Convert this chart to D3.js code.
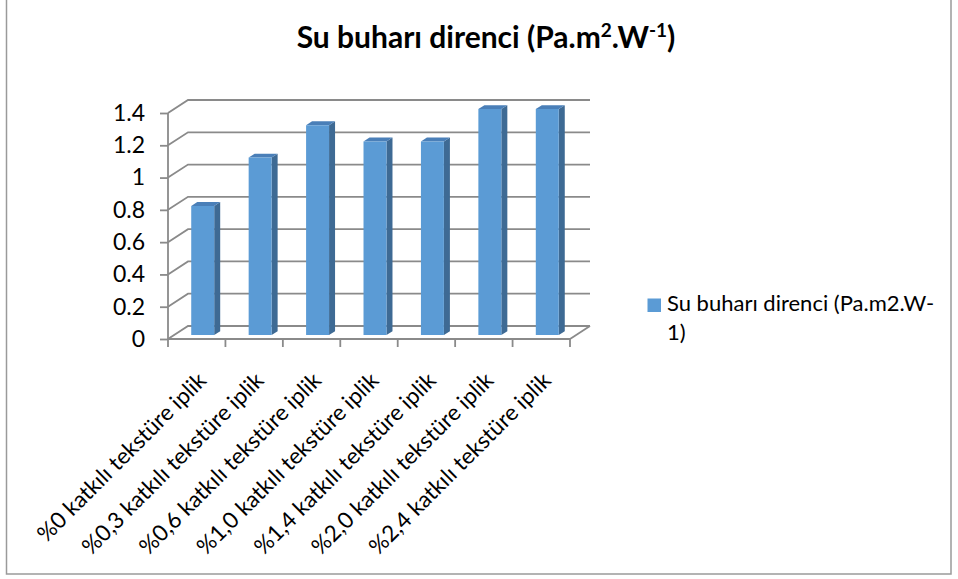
<!DOCTYPE html>
<html>
<head>
<meta charset="utf-8">
<script src="https://cdn.jsdelivr.net/npm/d3@7"></script>
<style>
  html, body { margin: 0; padding: 0; background: #fff; }
  svg { display: block; }
  text { font-family: Lato, "Noto Sans", sans-serif; fill: #000; }
</style>
</head>
<body>
<svg id="chart" width="958" height="579"></svg>
<script>
// Chart data
const categories = [
  "%0 katkılı tekstüre iplik",
  "%0,3 katkılı tekstüre iplik",
  "%0,6 katkılı tekstüre iplik",
  "%1,0 katkılı tekstüre iplik",
  "%1,4 katkılı tekstüre iplik",
  "%2,0 katkılı tekstüre iplik",
  "%2,4 katkılı tekstüre iplik"
];
const values = [0.8, 1.1, 1.3, 1.2, 1.2, 1.4, 1.4];
const yTicks = [0, 0.2, 0.4, 0.6, 0.8, 1.0, 1.2, 1.4];
const seriesName = "Su buharı direnci (Pa.m2.W-1)";
const legendLines = ["Su buharı direnci (Pa.m2.W-", "1)"];

const svg = d3.select("#chart");

// Outer chart frame
svg.append("rect")
  .attr("x", 6.5).attr("y", -1)
  .attr("width", 944.5).attr("height", 575)
  .attr("fill", "#fff").attr("stroke", "#9a9a9a").attr("stroke-width", 1.5);

// Title with superscripts
const title = svg.append("text")
  .attr("x", 486).attr("y", 48)
  .attr("text-anchor", "middle")
  .style("font-weight", "bold").style("font-size", "30px");
title.append("tspan").text("Su buharı direnci (Pa.m");
title.append("tspan").attr("dy", -11).style("font-size", "19px").text("2");
title.append("tspan").attr("dy", 11).text(".W");
title.append("tspan").attr("dy", -11).style("font-size", "19px").text("-1");
title.append("tspan").attr("dy", 11).text(")");

// Scales: front plane of the 3D plot
const x = d3.scaleBand().domain(categories).range([168, 570]).paddingInner(0).paddingOuter(0);
const y = d3.scaleLinear().domain([0, 1.4]).range([339, 113]);

// Depth offset of the back wall
const DX = 20, DY = -13;
const P = (px, v, t) => [px + DX * t, y(v) + DY * t];

const gridColor = "#8a8a8a";
const g = svg.append("g");

// Back wall gridlines and their connectors to the value axis
yTicks.forEach(v => {
  const a = P(x.range()[0], v, 0), b = P(x.range()[0], v, 1), c = P(x.range()[1], v, 1);
  g.append("path")
    .attr("d", d3.line()([a, b, c]))
    .attr("fill", "none").attr("stroke", gridColor).attr("stroke-width", 1.8);
});

// Floor right edge
{
  const a = P(x.range()[1], 0, 0), b = P(x.range()[1], 0, 1);
  g.append("path").attr("d", d3.line()([a, b]))
    .attr("stroke", gridColor).attr("stroke-width", 1.8);
}

// Value axis (front left edge)
const yAxis = d3.axisLeft(y)
  .tickValues(yTicks)
  .tickSize(8)
  .tickPadding(15)
  .tickFormat(d => String(+d.toFixed(1)));
const ya = svg.append("g").attr("transform", "translate(168,0)").call(yAxis);
ya.select(".domain").attr("stroke", gridColor).attr("stroke-width", 1.8)
  .attr("d", `M0,${y(1.4)}V${y(0)}`);
ya.selectAll(".tick line").attr("stroke", gridColor).attr("stroke-width", 1.8);
ya.selectAll(".tick text").style("font-size", "23px").style("font-family", "Lato, sans-serif").attr("fill", "#000");

// Category axis (front floor edge) with ticks at band boundaries
const boundaries = categories.map(c => x(c)).concat([x.range()[1]]);
svg.append("line")
  .attr("x1", x.range()[0]).attr("x2", x.range()[1])
  .attr("y1", y(0)).attr("y2", y(0))
  .attr("stroke", gridColor).attr("stroke-width", 1.8);
svg.selectAll(".xtick").data(boundaries).join("line")
  .attr("class", "xtick")
  .attr("x1", d => d).attr("x2", d => d)
  .attr("y1", y(0)).attr("y2", y(0) + 8)
  .attr("stroke", gridColor).attr("stroke-width", 1.8);

// Rotated category labels
svg.selectAll(".xlabel").data(categories).join("text")
  .attr("class", "xlabel")
  .attr("text-anchor", "end")
  .style("font-size", "22.5px")
  .attr("transform", d => `translate(${x(d) + x.bandwidth() / 2 + 11},382) rotate(-45)`)
  .text(d => d);

// 3D columns
const frontFill = "#5b9bd5", topFill = "#4a7fb8", sideFill = "#3e6a94";
const tf = 0.3, tb = 0.6;
const bw = x.bandwidth() / 2.5;
const bars = svg.append("g");
categories.forEach((c, i) => {
  const v = values[i];
  const x0 = x(c) + x.bandwidth() / 2 - bw / 2, x1 = x0 + bw;
  const fBL = P(x0, 0, tf), fBR = P(x1, 0, tf), fTR = P(x1, v, tf), fTL = P(x0, v, tf);
  const bBR = P(x1, 0, tb), bTR = P(x1, v, tb), bTL = P(x0, v, tb);
  const poly = pts => d3.line()(pts) + "Z";
  bars.append("path").attr("d", poly([fBR, bBR, bTR, fTR])).attr("fill", sideFill);
  bars.append("path").attr("d", poly([fTL, fTR, bTR, bTL])).attr("fill", topFill);
  bars.append("path").attr("d", poly([fBL, fBR, fTR, fTL])).attr("fill", frontFill);
});

// Legend
const lg = svg.append("g");
lg.append("rect").attr("x", 647.5).attr("y", 298.5).attr("width", 13.5).attr("height", 13.5).attr("fill", frontFill);
lg.append("text").attr("x", 667).attr("y", 311).style("font-size", "22px")
  .selectAll("tspan").data(legendLines).join("tspan")
  .attr("x", 667).attr("dy", (d, i) => i === 0 ? 0 : 28.5)
  .text(d => d);
</script>
</body>
</html>
